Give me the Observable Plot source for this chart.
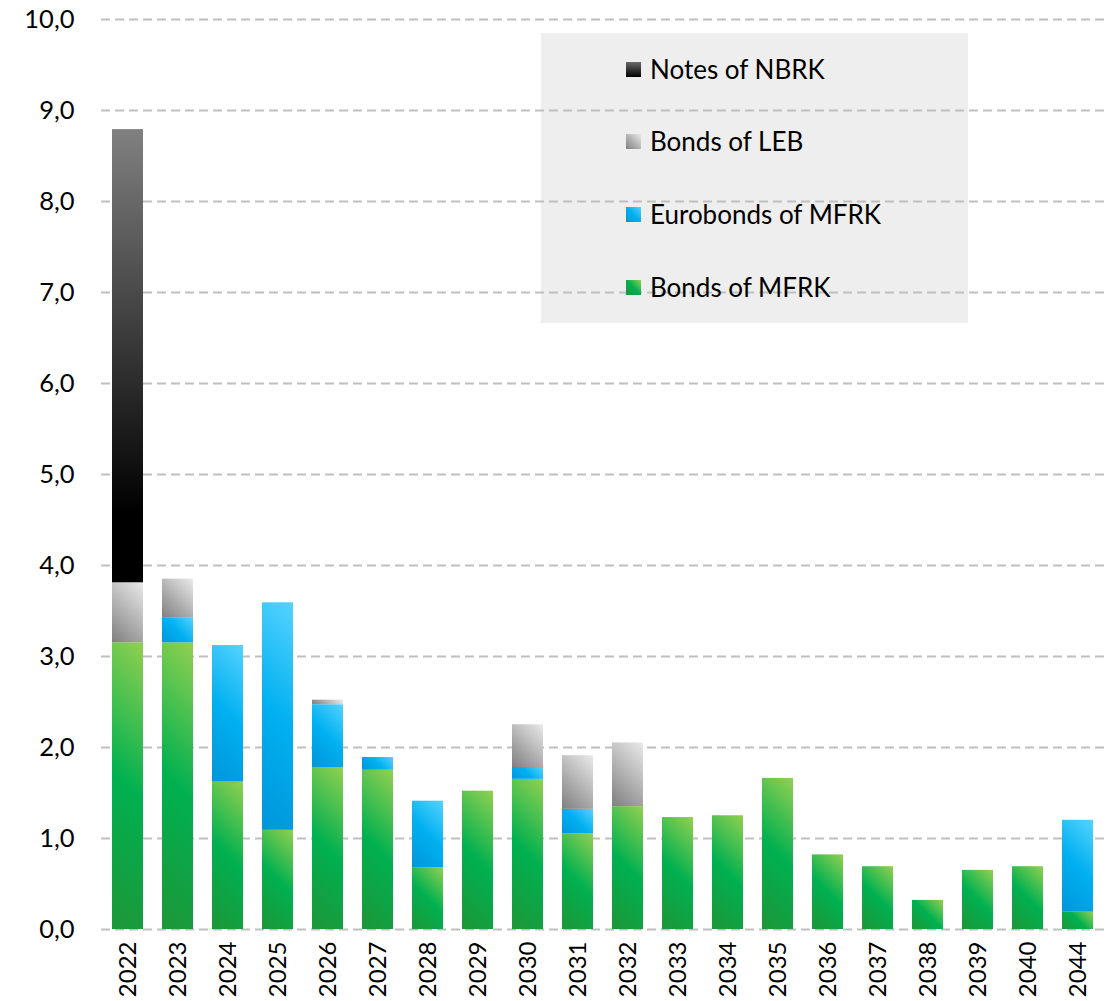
<!DOCTYPE html>
<html>
<head>
<meta charset="utf-8">
<script src="https://cdn.jsdelivr.net/npm/d3@7"></script>
<script src="https://cdn.jsdelivr.net/npm/@observablehq/plot@0.6"></script>
<style>
  html, body { margin: 0; padding: 0; background: white; }
  #wrap { position: relative; width: 1114px; height: 1001px; }
  #legendBox { position: absolute; left: 541px; top: 33px; width: 427px; height: 290px; background: #EEEEEE; z-index: 0; }
  #legendItems { position: absolute; left: 541px; top: 33px; width: 427px; height: 290px; z-index: 2; font-family: Lato, "Open Sans", sans-serif; font-size: 26px; color: #000; }
  #legendItems .item { position: absolute; left: 85px; display: flex; align-items: center; height: 32px; }
  #legendItems .sw { width: 15px; height: 15px; margin-right: 9px; }
  #chart { position: relative; z-index: 1; }
</style>
</head>
<body>
<div id="wrap">
  <div id="legendBox"></div>
  <div id="chart"></div>
  <div id="legendItems"></div>
</div>
<script>
const years = ["2022","2023","2024","2025","2026","2027","2028","2029","2030","2031","2032","2033","2034","2035","2036","2037","2038","2039","2040","2044"];
const bondsMFRK = [3.15,3.15,1.62,1.09,1.78,1.75,0.68,1.52,1.65,1.05,1.35,1.23,1.25,1.66,0.82,0.69,0.32,0.65,0.69,0.19];
const eurobondsMFRK = [0,0.27,1.50,2.50,0.69,0.14,0.73,0,0.13,0.27,0,0,0,0,0,0,0,0,0,1.01];
const bondsLEB = [0.66,0.43,0,0,0.05,0,0,0,0.47,0.59,0.70,0,0,0,0,0,0,0,0,0];
const notesNBRK = [4.98,0,0,0,0,0,0,0,0,0,0,0,0,0,0,0,0,0,0,0];
const seriesNames = ["Bonds of MFRK","Eurobonds of MFRK","Bonds of LEB","Notes of NBRK"];
const legendOrder = ["Notes of NBRK","Bonds of LEB","Eurobonds of MFRK","Bonds of MFRK"];
const yTicks = [0,1,2,3,4,5,6,7,8,9,10];

const seriesValues = [bondsMFRK, eurobondsMFRK, bondsLEB, notesNBRK];
const rows = [];
years.forEach((yr, i) => {
  seriesNames.forEach((s, k) => {
    const v = seriesValues[k][i];
    if (v > 0) rows.push({year: yr, series: s, value: v});
  });
});

const baseFills = ["#00B050", "#00B0F0", "#B0B0B0", "#000000"];
const gradStops = {
  "#00B050": {diag: true, stops: [[0, "#92D050"], [0.5, "#00B050"], [1, "#1E9638"]]},
  "#00B0F0": {diag: true, stops: [[0, "#55D3FF"], [0.5, "#00B0F0"], [1, "#0096DA"]]},
  "#B0B0B0": {diag: true, stops: [[0, "#EAEAEA"], [1, "#7F7F7F"]]},
  "#000000": {diag: false, stops: [[0, "#808080"], [0.85, "#000000"], [1, "#000000"]]}
};
const fmt = d => d3.format(".1f")(d).replace(".", ",");

const chart = Plot.plot({
  width: 1114,
  height: 1001,
  marginLeft: 101,
  marginRight: 10,
  marginTop: 19,
  marginBottom: 72,
  style: {fontFamily: "Lato, 'Open Sans', sans-serif", fontSize: "24px", color: "#000", background: "transparent"},
  x: {domain: years, paddingInner: 0.38, paddingOuter: 0.19, label: null},
  y: {domain: [0, 10], label: null},
  color: {domain: seriesNames, range: baseFills, type: "ordinal"},
  marks: [
    Plot.gridY(yTicks, {stroke: "#BFBFBF", strokeOpacity: 1, strokeWidth: 2, strokeDasharray: "9,5"}),
    Plot.barY(rows, Plot.stackY({x: "year", y: "value", fill: "series", z: "series", order: seriesNames})),
    Plot.axisY(yTicks, {tickSize: 0, tickPadding: 27, tickFormat: fmt, fontSize: 25.5}),
    Plot.axisX({tickSize: 0, tickPadding: 12, tickRotate: -90, fontSize: 24})
  ]
});

// Gradient fills per bar segment (Excel-like shading)
const svg = d3.select(chart);
const defs = svg.insert("defs", ":first-child");
svg.selectAll("g[aria-label='bar'] rect").each(function(_, i) {
  const r = d3.select(this);
  const spec = gradStops[(r.attr("fill") || "").toUpperCase()];
  if (!spec) return;
  const x = +r.attr("x"), y = +r.attr("y"), w = +r.attr("width"), h = +r.attr("height");
  const id = "grad" + i;
  const g = defs.append("linearGradient").attr("id", id).attr("gradientUnits", "userSpaceOnUse");
  if (spec.diag) {
    const L = (w + h) / 2;
    g.attr("x1", x + w).attr("y1", y).attr("x2", x + w - L).attr("y2", y + L);
  } else {
    g.attr("x1", x).attr("y1", y).attr("x2", x).attr("y2", y + h);
  }
  spec.stops.forEach(([o, c]) => g.append("stop").attr("offset", o).attr("stop-color", c));
  r.attr("fill", `url(#${id})`);
});

document.getElementById("chart").appendChild(chart);

// Legend
const cssFills = {
  "Notes of NBRK": "linear-gradient(to bottom, #6a6a6a, #000)",
  "Bonds of LEB": "linear-gradient(to bottom left, #EAEAEA, #7F7F7F)",
  "Eurobonds of MFRK": "linear-gradient(to bottom left, #55D3FF, #00B0F0 50%, #0096DA)",
  "Bonds of MFRK": "linear-gradient(to bottom left, #92D050, #00B050 50%, #1E9638)"
};
const legendTops = [20, 92, 165, 238];
const leg = document.getElementById("legendItems");
legendOrder.forEach((name, i) => {
  const it = document.createElement("div");
  it.className = "item";
  it.style.top = legendTops[i] + "px";
  const sw = document.createElement("div");
  sw.className = "sw";
  sw.style.background = cssFills[name];
  const tx = document.createElement("span");
  tx.textContent = name;
  it.appendChild(sw); it.appendChild(tx);
  leg.appendChild(it);
});
</script>
</body>
</html>
